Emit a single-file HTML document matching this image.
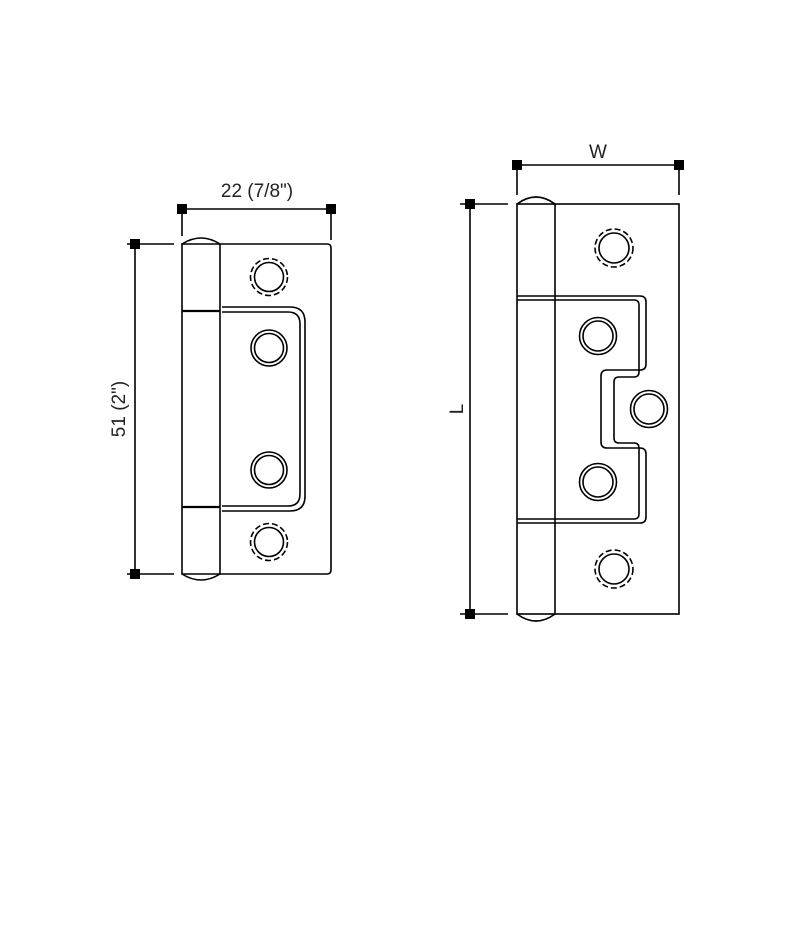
<!DOCTYPE html>
<html><head><style>body{margin:0;background:#fff}svg{display:block}</style></head><body>
<svg width="787" height="936" viewBox="0 0 787 936" xmlns="http://www.w3.org/2000/svg" font-family="'Liberation Sans', sans-serif">
<g fill="none" stroke="#000" stroke-width="1.6">
<!-- LEFT HINGE -->
<path d="M182 244 H327 Q331 244 331 248 V570 Q331 574 327 574 H182 Z"/>
<line x1="220" y1="244" x2="220" y2="574"/>
<path d="M182 244 Q201 232 220 244"/>
<path d="M182 574 Q201 586 220 574"/>
<line x1="182" y1="311" x2="220" y2="311" stroke-width="2.2"/>
<line x1="182" y1="507" x2="220" y2="507" stroke-width="2.2"/>
<path d="M222 307 H290 Q305 307 305 322 V496 Q305 511 290 511 H222"/>
<path d="M222 312 H288 Q300 312 300 324 V494 Q300 506 288 506 H222"/>
<circle cx="269" cy="277" r="14.5"/><circle cx="269" cy="277" r="18.5" stroke-dasharray="6 3"/>
<circle cx="269" cy="348" r="14.5"/><circle cx="269" cy="348" r="18"/>
<circle cx="269" cy="470" r="14.5"/><circle cx="269" cy="470" r="18"/>
<circle cx="269" cy="542" r="14.5"/><circle cx="269" cy="542" r="18.5" stroke-dasharray="6 3"/>
<!-- left dims -->
<line x1="182" y1="209" x2="331" y2="209"/>
<line x1="182" y1="209" x2="182" y2="236"/>
<line x1="331" y1="209" x2="331" y2="240"/>
<line x1="135" y1="244" x2="135" y2="574"/>
<line x1="127" y1="244" x2="174" y2="244"/>
<line x1="127" y1="574" x2="174" y2="574"/>
<!-- RIGHT HINGE -->
<rect x="517" y="204" width="162" height="410"/>
<line x1="555" y1="204" x2="555" y2="614"/>
<path d="M517 204 Q536 190 555 204"/>
<path d="M555 614 Q536 628 517 614"/>
<path d="M517 296 H640 Q646 296 646 302 V364 Q646 370 640 370 H607 Q601 370 601 376 V442 Q601 448 607 448 H640 Q646 448 646 454 V517 Q646 523 640 523 H517"/>
<path d="M517 300 H634 Q639 300 639 305 V372 Q639 377 634 377 H619 Q614 377 614 382 V438 Q614 443 619 443 H634 Q639 443 639 448 V514 Q639 519 634 519 H517"/>
<circle cx="614" cy="248" r="15"/><circle cx="614" cy="248" r="19" stroke-dasharray="6 3"/>
<circle cx="598" cy="336" r="15"/><circle cx="598" cy="336" r="18.5"/>
<circle cx="649" cy="409" r="15"/><circle cx="649" cy="409" r="18.5"/>
<circle cx="598" cy="482" r="15"/><circle cx="598" cy="482" r="18.5"/>
<circle cx="614" cy="569" r="15"/><circle cx="614" cy="569" r="19" stroke-dasharray="6 3"/>
<!-- right dims -->
<line x1="517" y1="165" x2="679" y2="165"/>
<line x1="517" y1="165" x2="517" y2="195"/>
<line x1="679" y1="165" x2="679" y2="195"/>
<line x1="470" y1="204" x2="470" y2="614"/>
<line x1="460" y1="204" x2="508" y2="204"/>
<line x1="460" y1="614" x2="508" y2="614"/>
</g>
<g fill="#000">
<rect x="177" y="204" width="10" height="10"/><rect x="326" y="204" width="10" height="10"/>
<rect x="130" y="239" width="10" height="10"/><rect x="130" y="569" width="10" height="10"/>
<rect x="512" y="160" width="10" height="10"/><rect x="674" y="160" width="10" height="10"/>
<rect x="465" y="199" width="10" height="10"/><rect x="465" y="609" width="10" height="10"/>
</g>
<g fill="#222" font-size="19">
<text x="257" y="197" text-anchor="middle">22 (7/8")</text>
<text x="598" y="158" text-anchor="middle">W</text>
<text transform="translate(125 409) rotate(-90)" text-anchor="middle">51 (2")</text>
<text transform="translate(463 409) rotate(-90)" text-anchor="middle">L</text>
</g>
</svg>
</body></html>
